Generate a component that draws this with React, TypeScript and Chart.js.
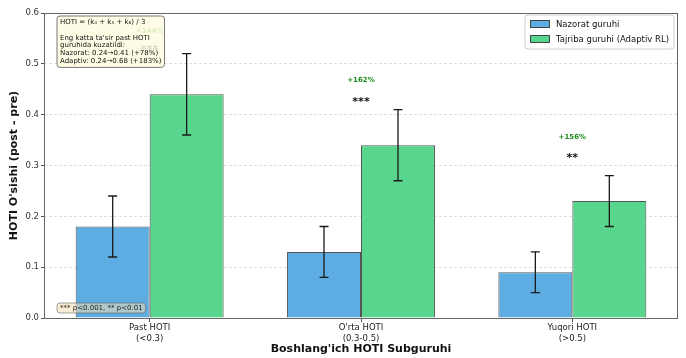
import React, { useEffect, useRef } from "react";
import { Chart, registerables } from "chart.js";

Chart.register(...registerables);

const categories: string[][] = [
  ["Past HOTI", "(<0.3)"],
  ["O'rta HOTI", "(0.3-0.5)"],
  ["Yuqori HOTI", "(>0.5)"],
];
const seriesNames = ["Nazorat guruhi", "Tajriba guruhi (Adaptiv RL)"];
const controlValues = [0.18, 0.13, 0.09];
const adaptiveValues = [0.44, 0.34, 0.23];
const controlErrors = [0.06, 0.05, 0.04];
const adaptiveErrors = [0.08, 0.07, 0.05];
const sigLabels = ["***", "***", "**"];
const sigLabelY = [0.533, 0.43, 0.32];
const pctLabelY = [0.565, 0.468, 0.356];
const yTicks = [0, 0.1, 0.2, 0.3, 0.4, 0.5, 0.6];
const formulaLines = [
  "HOTI = (k\u2084 + k\u2085 + k\u2086) / 3",
  "",
  "Eng katta ta'sir past HOTI",
  "guruhida kuzatildi:",
  "Nazorat: 0.24\u21920.41 (+78%)",
  "Adaptiv: 0.24\u21920.68 (+183%)",
];
const sigNote = "*** p<0.001, ** p<0.01";

const FONT = "'DejaVu Sans', sans-serif";
const BLUE = "#5DADE2";
const GREEN = "#58D68D";

function roundRect(ctx: CanvasRenderingContext2D, x: number, y: number, w: number, h: number, r: number) {
  ctx.beginPath();
  ctx.moveTo(x + r, y);
  ctx.lineTo(x + w - r, y);
  ctx.quadraticCurveTo(x + w, y, x + w, y + r);
  ctx.lineTo(x + w, y + h - r);
  ctx.quadraticCurveTo(x + w, y + h, x + w - r, y + h);
  ctx.lineTo(x + r, y + h);
  ctx.quadraticCurveTo(x, y + h, x, y + h - r);
  ctx.lineTo(x, y + r);
  ctx.quadraticCurveTo(x, y, x + r, y);
  ctx.closePath();
}

const overlayPlugin = {
  id: "overlay",
  afterDatasetsDraw(chart: any) {
    const ctx: CanvasRenderingContext2D = chart.ctx;
    const y = chart.scales.y;
    const errs = [controlErrors, adaptiveErrors];
    const vals = [controlValues, adaptiveValues];
    ctx.save();
    ctx.strokeStyle = "#1a1a1a";
    ctx.lineWidth = 1.3;
    for (let d = 0; d < 2; d++) {
      const meta = chart.getDatasetMeta(d);
      meta.data.forEach((bar: any, i: number) => {
        const x = bar.x;
        const top = y.getPixelForValue(vals[d][i] + errs[d][i]);
        const bot = y.getPixelForValue(vals[d][i] - errs[d][i]);
        ctx.beginPath();
        ctx.moveTo(x, top);
        ctx.lineTo(x, bot);
        ctx.moveTo(x - 4.5, top);
        ctx.lineTo(x + 4.5, top);
        ctx.moveTo(x - 4.5, bot);
        ctx.lineTo(x + 4.5, bot);
        ctx.stroke();
      });
    }
    ctx.restore();
  },
  afterDraw(chart: any) {
    const ctx: CanvasRenderingContext2D = chart.ctx;
    const { left, right, top, bottom } = chart.chartArea;
    const xs = chart.scales.x;
    const ys = chart.scales.y;
    ctx.save();
    // spines
    ctx.strokeStyle = "#666";
    ctx.lineWidth = 1;
    ctx.strokeRect(left + 0.5, top + 0.5, right - left - 1, bottom - top);

    // annotations
    ctx.textAlign = "center";
    ctx.textBaseline = "middle";
    categories.forEach((_, i) => {
      const cx = xs.getPixelForValue(i);
      const pct = Math.round(((adaptiveValues[i] - controlValues[i]) / controlValues[i]) * 100);
      ctx.fillStyle = "#1e8a1e";
      ctx.font = `bold 7px ${FONT}`;
      ctx.fillText(`+${pct}%`, cx, ys.getPixelForValue(pctLabelY[i]));
      ctx.fillStyle = "#111";
      ctx.font = `bold 11px ${FONT}`;
      ctx.fillText(sigLabels[i], cx, ys.getPixelForValue(sigLabelY[i]) + 3);
    });

    // formula box
    const bx = left + 13, by = top + 3;
    ctx.font = `7px ${FONT}`;
    let w = 0;
    formulaLines.forEach((l) => (w = Math.max(w, ctx.measureText(l).width)));
    const lh = 7.9;
    const bw = w + 6, bh = formulaLines.length * lh + 4;
    roundRect(ctx, bx, by, bw, bh, 3);
    ctx.fillStyle = "rgba(255,252,225,0.85)";
    ctx.fill();
    ctx.strokeStyle = "#777";
    ctx.lineWidth = 1;
    ctx.stroke();
    ctx.fillStyle = "#111";
    ctx.textAlign = "left";
    ctx.textBaseline = "middle";
    formulaLines.forEach((l, i) => ctx.fillText(l, bx + 3, by + 2 + lh * (i + 0.5)));

    // significance note
    const nw = ctx.measureText(sigNote).width + 6;
    const nx = left + 13, nh = 10, ny = bottom - 15;
    roundRect(ctx, nx, ny, nw, nh, 3);
    ctx.fillStyle = "rgba(245,222,179,0.55)";
    ctx.fill();
    ctx.strokeStyle = "rgba(100,100,100,0.6)";
    ctx.stroke();
    ctx.fillStyle = "#222";
    ctx.fillText(sigNote, nx + 3, ny + nh / 2 + 0.5);

    // legend
    ctx.font = `8.5px ${FONT}`;
    let lw = 0;
    seriesNames.forEach((n) => (lw = Math.max(lw, ctx.measureText(n).width)));
    const lgW = lw + 36, lgH = 34;
    const lgX = right - lgW - 4, lgY = top + 2;
    roundRect(ctx, lgX, lgY, lgW, lgH, 3);
    ctx.fillStyle = "rgba(255,255,255,0.85)";
    ctx.fill();
    ctx.strokeStyle = "#ccc";
    ctx.stroke();
    [BLUE, GREEN].forEach((c, i) => {
      const ry = lgY + 9 + i * 15;
      ctx.fillStyle = c;
      ctx.fillRect(lgX + 5, ry - 4, 20, 8);
      ctx.strokeStyle = "#444";
      ctx.strokeRect(lgX + 5.5, ry - 3.5, 19, 7);
      ctx.fillStyle = "#111";
      ctx.fillText(seriesNames[i], lgX + 31, ry + 0.5);
    });
    ctx.restore();
  },
};

export default function App() {
  const ref = useRef<HTMLCanvasElement | null>(null);
  useEffect(() => {
    if (!ref.current) return;
    const chart = new Chart(ref.current, {
      type: "bar",
      data: {
        labels: categories,
        datasets: [
          {
            label: seriesNames[0],
            data: controlValues,
            backgroundColor: BLUE,
            borderColor: "#555",
            borderWidth: 1,
            categoryPercentage: 0.7,
            barPercentage: 1.0,
          },
          {
            label: seriesNames[1],
            data: adaptiveValues,
            backgroundColor: GREEN,
            borderColor: "#555",
            borderWidth: 1,
            categoryPercentage: 0.7,
            barPercentage: 1.0,
          },
        ],
      },
      options: {
        animation: false,
        responsive: false,
        maintainAspectRatio: false,
        layout: { padding: { left: 0, right: 8, top: 13, bottom: 0 } },
        plugins: { legend: { display: false }, tooltip: { enabled: false }, title: { display: false } },
        scales: {
          x: {
            grid: { display: true, drawOnChartArea: false, offset: false, tickLength: 4, color: "#555" },
            border: { display: false },
            ticks: { font: { family: FONT, size: 8.5 }, color: "#222", padding: 1, maxRotation: 0 },
            title: {
              display: true,
              text: "Boshlang'ich HOTI Subguruhi",
              font: { family: FONT, size: 11, weight: "bold" },
              color: "#111",
              padding: { top: 0, bottom: 2 },
            },
            afterFit: (s: any) => {
              s.height = 40;
            },
          },
          y: {
            min: 0,
            max: 0.6,
            afterBuildTicks: (s: any) => {
              s.ticks = yTicks.map((v) => ({ value: v }));
            },
            ticks: {
              font: { family: FONT, size: 8.5 },
              color: "#333",
              padding: 2,
              callback: (v: any) => Number(v).toFixed(1),
            },
            grid: {
              color: "rgba(0,0,0,0.13)",
              tickColor: "#555",
              tickLength: 3,
              tickBorderDash: [],
            },
            border: { display: false, dash: [3, 2] },
            title: {
              display: true,
              text: "HOTI O'sishi (post - pre)",
              font: { family: FONT, size: 11, weight: "bold" },
              color: "#111",
              padding: { top: 8, bottom: 0 },
            },
            afterFit: (s: any) => {
              s.width = 44;
            },
          },
        },
      },
      plugins: [overlayPlugin],
    });
    return () => chart.destroy();
  }, []);
  return (
    <div style={{ position: "fixed", left: 0, top: 0, width: 686, height: 358, background: "#fff" }}>
      <canvas ref={ref} width={686} height={358} style={{ width: 686, height: 358 }} />
    </div>
  );
}
